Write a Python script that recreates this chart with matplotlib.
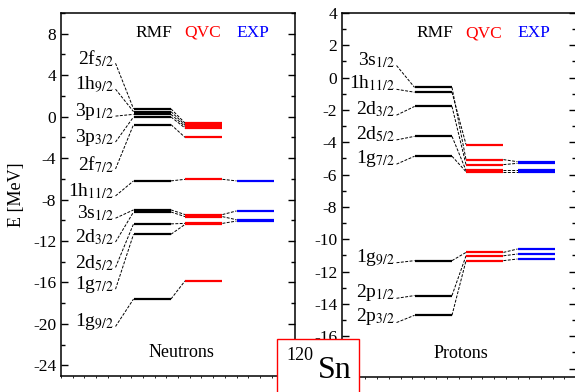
import numpy as np
import matplotlib
matplotlib.use('Agg')
import matplotlib.pyplot as plt
from matplotlib.ticker import MultipleLocator, FuncFormatter
from matplotlib.patches import Rectangle

plt.rcParams['font.family'] = 'serif'
plt.rcParams['font.serif'] = ['Liberation Serif', 'DejaVu Serif']
plt.rcParams['mathtext.fontset'] = 'stix'
plt.rcParams['axes.unicode_minus'] = False

nan = np.nan

# neutron single-particle levels (MeV)
n_labels = ['2f_{5/2}', '1h_{9/2}', '3p_{1/2}', '3p_{3/2}', '2f_{7/2}', '1h_{11/2}',
            '3s_{1/2}', '2d_{3/2}', '2d_{5/2}', '1g_{7/2}', '1g_{9/2}']
n_rmf = [0.75, 0.48, 0.22, -0.03, -0.77, -6.2, -9.0, -9.2, -10.35, -11.35, -17.6]
n_qvc = [-0.62, -0.78, -0.94, -1.1, -2.0, -6.05, -9.45, -9.65, -10.3, -10.4, -15.85]
n_exp = [nan, nan, nan, nan, nan, -6.2, -9.1, -9.95, -10.08, nan, nan]
n_label_y = [5.6, 3.1, 0.5, -2.0, -4.6, -7.2, -9.35, -11.65, -14.1, -16.2, -19.8]

# proton single-particle levels (MeV)
p_labels = ['3s_{1/2}', '1h_{11/2}', '2d_{3/2}', '2d_{5/2}', '1g_{7/2}',
            '1g_{9/2}', '2p_{1/2}', '2p_{3/2}']
p_rmf = [-0.6, -0.9, -1.78, -3.63, -4.86, -11.32, -13.48, -14.7]
p_qvc = [-5.07, -4.14, -5.38, -5.74, -5.82, -10.81, -11.02, -11.32]
p_exp = [-5.2, nan, -5.3, -5.74, -5.82, -10.6, -10.91, -11.22]
p_label_y = [1.1, -0.37, -1.97, -3.5, -5.0, -11.1, -13.3, -14.8]

# column positions (axes fraction)
cols = {'RMF': (0.31, 0.47), 'QVC': (0.53, 0.69), 'EXP': (0.75, 0.91)}
colors = {'RMF': 'black', 'QVC': 'red', 'EXP': 'blue'}
lab_x = 0.225


def draw_panel(ax, labels, rmf, qvc, exp, label_y, line_off):
    tr = ax.get_yaxis_transform()
    for i in range(len(labels)):
        levels = {'RMF': rmf[i], 'QVC': qvc[i], 'EXP': exp[i]}
        for k, v in levels.items():
            if np.isnan(v):
                continue
            x0, x1 = cols[k]
            ax.plot([x0, x1], [v, v], color=colors[k], lw=1.6,
                    solid_capstyle='butt', transform=tr, zorder=3)
        # dashed connectors
        ax.plot([cols['RMF'][1], cols['QVC'][0]], [rmf[i], qvc[i]], 'k--',
                lw=0.7, dashes=(3, 1.5), transform=tr, zorder=2)
        if not np.isnan(exp[i]):
            ax.plot([cols['QVC'][1], cols['EXP'][0]], [qvc[i], exp[i]], 'k--',
                    lw=0.7, dashes=(3, 1.5), transform=tr, zorder=2)
        ax.plot([lab_x + 0.008, cols['RMF'][0]], [label_y[i] - line_off, rmf[i]],
                'k--', lw=0.7, dashes=(3, 1.5), transform=tr, zorder=2)
        name, sub = labels[i].split('_')
        ax.text(lab_x, label_y[i], name + '$_{' + sub[1:-1] + '}$', transform=tr,
                ha='right', va='center', fontsize=14)
    for k, xx in zip(['RMF', 'QVC', 'EXP'], [0.395, 0.605, 0.82]):
        ax.text(xx, 0.945, k, transform=ax.transAxes, color=colors[k],
                ha='center', va='center', fontsize=12.5)
    ax.set_xlim(0, 1)
    ax.xaxis.set_major_locator(MultipleLocator(0.05))
    ax.tick_params(axis='x', direction='out', length=1.5, width=0.6,
                   labelbottom=False)
    ax.tick_params(axis='y', which='both', direction='in', left=True, right=True,
                   labelsize=12.5, width=1)
    ax.tick_params(axis='y', which='major', length=5)
    ax.tick_params(axis='y', which='minor', length=3)
    for s in ax.spines.values():
        s.set_linewidth(1.1)


fig = plt.figure(figsize=(5.75, 3.92), dpi=100)
ax1 = fig.add_axes([61 / 575, 1 - 375.7 / 392, 234 / 575, 362.7 / 392])
ax2 = fig.add_axes([342 / 575, 1 - 376.7 / 392, 234 / 575, 363.7 / 392])

ax1.set_ylim(-25, 10)
ax1.yaxis.set_major_locator(MultipleLocator(4))
ax1.yaxis.set_minor_locator(MultipleLocator(2))
ax2.set_ylim(-18.5, 4)
ax2.yaxis.set_major_locator(MultipleLocator(2))
ax2.yaxis.set_minor_locator(MultipleLocator(1))
# the -18 label sits under the nucleus box, so leave it blank
ax2.yaxis.set_major_formatter(FuncFormatter(lambda v, p: '' if v < -17 else '%d' % v))

draw_panel(ax1, n_labels, n_rmf, n_qvc, n_exp, n_label_y, 0.45)
draw_panel(ax2, p_labels, p_rmf, p_qvc, p_exp, p_label_y, 0.35)

ax1.text(0.515, 0.065, 'Neutrons', transform=ax1.transAxes, ha='center',
         va='center', fontsize=13)
ax2.text(0.51, 0.063, 'Protons', transform=ax2.transAxes, ha='center',
         va='center', fontsize=13)

fig.text(17 / 575, 1 - 195 / 392, 'E [MeV]', rotation=90, ha='center',
         va='center', fontsize=13)

# nucleus box
box = Rectangle((277 / 575, -0.05), 82 / 575, 0.05 + (392 - 339) / 392,
                transform=fig.transFigure, facecolor='white', edgecolor='red',
                lw=1.0, zorder=10)
fig.add_artist(box)
fig.text(286 / 575, 1 - 356 / 392, '120', ha='left', va='center', fontsize=13,
         zorder=11)
fig.text(318 / 575, 1 - 371 / 392, 'Sn', ha='left', va='center', fontsize=23,
         zorder=11)

fig.savefig('out.png', dpi=100)
